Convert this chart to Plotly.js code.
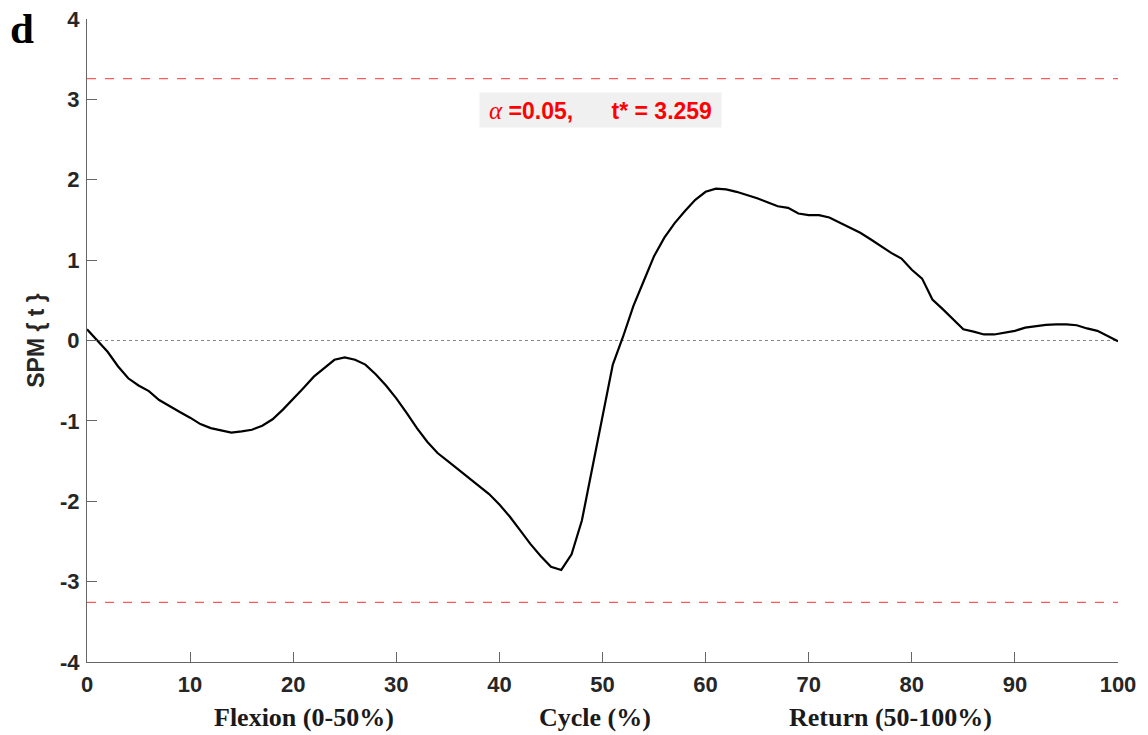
<!DOCTYPE html>
<html>
<head>
<meta charset="utf-8">
<script src="https://cdn.plot.ly/plotly-3.0.1.min.js"></script>
<style>html,body{margin:0;padding:0;background:#fff;}#chart{width:1148px;height:735px;}</style>
</head>
<body>
<div id="chart"></div>
<script>
const cyclePct = Array.from({length: 101}, (_, i) => i);
const spmT = [
  0.14, 0.00, -0.14, -0.32, -0.47, -0.56, -0.63, -0.74, -0.82, -0.89,
  -0.96, -1.04, -1.09, -1.12, -1.145, -1.13, -1.11, -1.06, -0.98, -0.86,
  -0.73, -0.59, -0.45, -0.35, -0.24, -0.21, -0.24, -0.30, -0.42, -0.56,
  -0.72, -0.90, -1.09, -1.26, -1.40, -1.50, -1.60, -1.70, -1.80, -1.91,
  -2.04, -2.19, -2.36, -2.53, -2.68, -2.815, -2.855, -2.66, -2.24, -1.58,
  -0.94, -0.30, 0.05, 0.43, 0.74, 1.05, 1.28, 1.46, 1.61, 1.75,
  1.85, 1.89, 1.88, 1.85, 1.81, 1.77, 1.72, 1.67, 1.65, 1.58,
  1.56, 1.56, 1.53, 1.47, 1.40, 1.34, 1.26, 1.17, 1.09, 1.02,
  0.88, 0.77, 0.51, 0.39, 0.27, 0.14, 0.11, 0.075, 0.075, 0.10,
  0.12, 0.16, 0.18, 0.195, 0.20, 0.20, 0.19, 0.15, 0.12, 0.05,
  -0.01
];
const tCrit = 3.259;
const alphaLevel = 0.05;
const xTicks = [0, 10, 20, 30, 40, 50, 60, 70, 80, 90, 100];
const yTicks = [-4, -3, -2, -1, 0, 1, 2, 3, 4];
const phaseLabels = ['Flexion (0-50%)', 'Cycle (%)', 'Return (50-100%)'];
const phaseCenters = [21.0, 49.3, 77.9];

const traces = [
  {x: [0, 100], y: [0, 0], mode: 'lines', line: {color: '#888', width: 1, dash: 'dot'}, hoverinfo: 'skip'},
  {x: [0, 100], y: [tCrit, tCrit], mode: 'lines', line: {color: '#ff5a5a', width: 1.2, dash: 'dash'}, hoverinfo: 'skip'},
  {x: [0, 100], y: [-tCrit, -tCrit], mode: 'lines', line: {color: '#ff5a5a', width: 1.2, dash: 'dash'}, hoverinfo: 'skip'},
  {x: cyclePct, y: spmT, mode: 'lines', line: {color: '#000', width: 2.2}}
];

const axisFont = {family: 'Liberation Sans, Arial, sans-serif', size: 22, color: '#262626', weight: 'bold'};
const annotations = [
  {
    xref: 'x', yref: 'y', x: 49.8, y: 2.87, showarrow: false,
    text: '<span style="font-family:\'Liberation Serif\';font-weight:normal;font-size:25px"><i>α</i></span>\u00A0=' + alphaLevel.toFixed(2) + ',\u00A0\u00A0\u00A0\u00A0\u00A0\u00A0t* = ' + tCrit.toFixed(3),
    font: {family: 'Liberation Sans, Arial, sans-serif', size: 23, color: '#ff0000', weight: 'bold'},
    bgcolor: '#f0f0f0', borderpad: 4, width: 233, height: 26
  },
  {
    xref: 'paper', yref: 'paper', x: -0.063, y: 1.025, xanchor: 'center', yanchor: 'top', showarrow: false,
    text: 'd', font: {family: 'Liberation Serif, Times New Roman, serif', size: 43, color: '#000', weight: 'bold'}
  }
];
phaseLabels.forEach((lab, i) => {
  annotations.push({
    xref: 'x', yref: 'paper', x: phaseCenters[i], y: -0.086, xanchor: 'center', yanchor: 'middle', showarrow: false,
    text: lab, font: {family: 'Liberation Serif, Times New Roman, serif', size: 26, color: '#1a1a1a', weight: 'bold'}
  });
});

const layout = {
  width: 1148, height: 735,
  margin: {l: 87, r: 30, t: 19, b: 73},
  paper_bgcolor: '#fff', plot_bgcolor: '#fff',
  showlegend: false,
  xaxis: {
    range: [0, 100], tickvals: xTicks, ticktext: xTicks.map(String),
    ticks: 'inside', ticklen: 10, tickcolor: '#666', tickwidth: 1,
    showline: true, linecolor: '#666', linewidth: 1, showgrid: false, zeroline: false,
    tickfont: axisFont, ticklabelstandoff: 3
  },
  yaxis: {
    range: [-4, 4], tickvals: yTicks, ticktext: yTicks.map(String),
    ticks: 'inside', ticklen: 10, tickcolor: '#666', tickwidth: 1,
    showline: true, linecolor: '#666', linewidth: 1, showgrid: false, zeroline: false,
    tickfont: axisFont, ticklabelstandoff: 2,
    title: {text: 'SPM { t }', font: {family: 'Liberation Sans, Arial, sans-serif', size: 23, color: '#262626', weight: 'bold'}, standoff: 8}
  },
  annotations: annotations
};

Plotly.newPlot('chart', traces, layout, {displayModeBar: false, staticPlot: true});
</script>
</body>
</html>
